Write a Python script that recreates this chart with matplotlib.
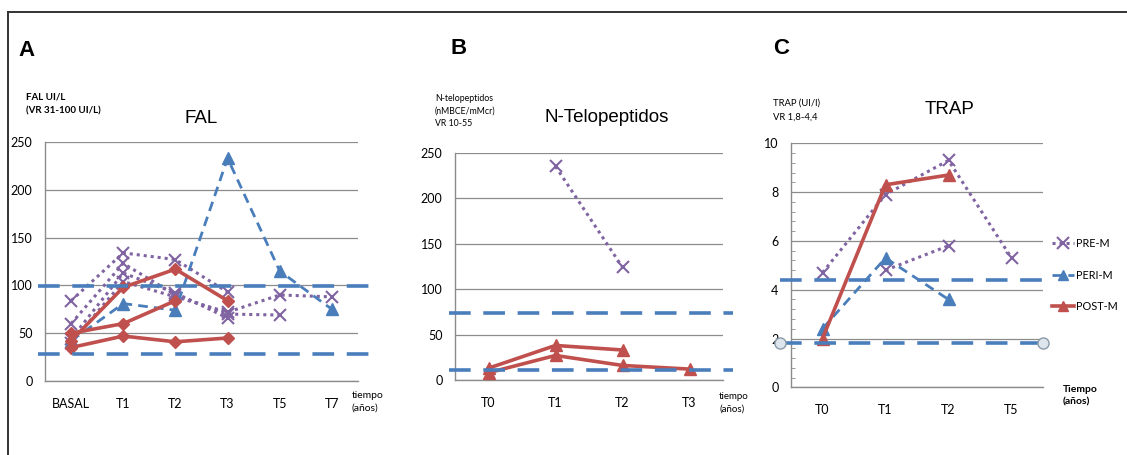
import numpy as np
import matplotlib
matplotlib.use('Agg')
import matplotlib.pyplot as plt
from matplotlib.lines import Line2D

nan = np.nan

# panel A - FAL
fal_cats = ['BASAL', 'T1', 'T2', 'T3', 'T5', 'T7']
fal_pre = [
    [84, 134, 127, 93, nan, nan],
    [60, 123, 90, 70, 69, nan],
    [44, 113, 92, 66, nan, nan],
    [40, 104, 88, 72, 90, 88],
]
fal_peri = [[42, 81, 74, 233, 115, 75]]
fal_post = [
    [42, 98, 117, 84, nan, nan],
    [50, 60, 84, nan, nan, nan],
    [35, 47, 41, 45, nan, nan],
]
fal_vr = [99, 28]

# panel B - N-Telopeptidos
ntx_cats = ['T0', 'T1', 'T2', 'T3']
ntx_pre = [[nan, 235, 124, nan]]
ntx_post = [
    [13, 38, 33, nan],
    [8, 27, 16, 12],
]
ntx_vr = [74, 11]

# panel C - TRAP
trap_cats = ['T0', 'T1', 'T2', 'T5']
trap_pre = [
    [4.7, 7.9, 9.3, 5.3],
    [nan, 4.8, 5.8, nan],
]
trap_peri = [[2.4, 5.3, 3.6, nan]]
trap_post = [[2.0, 8.3, 8.7, nan]]
trap_vr = [4.4, 1.8]

PURPLE = '#8064a2'
BLUE = '#4a7ebb'
RED = '#c0504d'
GRID = '#8c8c8c'
NARROW = ['Liberation Sans Narrow', 'Lato', 'DejaVu Sans']
SANS = ['Liberation Sans', 'DejaVu Sans']

W, H = 1127, 455
fig = plt.figure(figsize=(W / 100, H / 100), dpi=100)


def px_axes(x0, x1, ytop, ybot):
    return fig.add_axes([x0 / W, 1 - ybot / H, (x1 - x0) / W, (ybot - ytop) / H])


def style(ax, cats, ymax, step):
    ax.set_xlim(-0.5, len(cats) - 0.5)
    ax.set_ylim(0, ymax)
    ax.set_xticks(range(len(cats)))
    ax.set_xticklabels(cats, family=NARROW, fontsize=8.5)
    ax.set_yticks(np.arange(0, ymax + step / 2, step))
    ax.tick_params(length=0, pad=9, labelsize=9)
    ax.tick_params(axis='x', pad=12)
    for lab in ax.get_yticklabels():
        lab.set_family(NARROW)
    for s in ['top', 'right']:
        ax.spines[s].set_visible(False)
    for s in ['left', 'bottom']:
        ax.spines[s].set_color(GRID)
        ax.spines[s].set_linewidth(1.0)
    ax.yaxis.grid(True, color=GRID, lw=0.9)
    ax.set_axisbelow(True)
    ax.patch.set_alpha(0)


def draw(ax, pre, peri, post, post_marker):
    x = np.arange(len(pre[0]))
    for s in pre:
        a = np.array(s, float)
        m = ~np.isnan(a)
        ax.plot(x[m], a[m], ls=(0, (1, 1.3)), lw=2.2, color=PURPLE, marker='x',
                ms=9, mew=1.5, zorder=3, clip_on=False)
    for s in peri:
        a = np.array(s, float)
        m = ~np.isnan(a)
        ax.plot(x[m], a[m], ls=(0, (3.5, 2.2)), lw=2.0, color=BLUE, marker='^',
                ms=8, zorder=4, clip_on=False)
    for s in post:
        a = np.array(s, float)
        m = ~np.isnan(a)
        ax.plot(x[m], a[m], ls='-', lw=2.6, color=RED, marker=post_marker,
                ms=6.5 if post_marker == 'D' else 8, zorder=5, clip_on=False)


def vr_lines(ax, vals, x0, x1, circles=False):
    for i, v in enumerate(vals):
        ax.plot([x0, x1], [v, v], color=BLUE, lw=2.6, ls=(0, (6, 3.5)),
                zorder=6, clip_on=False)
        if circles and i == 1:
            ax.plot([x0, x1], [v, v], ls='none', marker='o', ms=8,
                    mfc='#dde6ee', mec='#8a9aa8', mew=1, zorder=7, clip_on=False)


# ---------- A ----------
axA = px_axes(45, 358, 142, 381)
style(axA, fal_cats, 250, 50)
draw(axA, fal_pre, fal_peri, fal_post, 'D')
vr_lines(axA, fal_vr, -0.63, 5.76)
axA.set_title('FAL', family=SANS, fontsize=13.5, pad=14)
fig.text(18 / W, 1 - 50 / H, 'A', fontsize=16, weight='bold', family=SANS, va='center')
fig.text(26 / W, 1 - 104 / H, 'FAL UI/L\n(VR 31-100 UI/L)', fontsize=7,
         weight='bold', family=NARROW, va='center', linespacing=1.6)
fig.text(352 / W, 1 - 402 / H, 'tiempo\n(años)', fontsize=7.5, family=NARROW,
         va='center', linespacing=1.5)

# ---------- B ----------
axB = px_axes(455, 723, 152.7, 380)
style(axB, ntx_cats, 250, 50)
draw(axB, ntx_pre, [], ntx_post, '^')
vr_lines(axB, ntx_vr, -0.59, 3.65)
fig.text(607 / W, 1 - 118 / H, 'N-Telopeptidos', family=SANS, fontsize=13.5,
         ha='center', va='center')
fig.text(450 / W, 1 - 48 / H, 'B', fontsize=16, weight='bold', family=SANS, va='center')
fig.text(435 / W, 1 - 111 / H, 'N-telopeptidos\n(nMBCE/mMcr)\nVR 10-55', fontsize=6.3,
         family=NARROW, va='center', linespacing=1.5)
fig.text(719 / W, 1 - 403 / H, 'tiempo\n(años)', fontsize=7, family=NARROW,
         va='center', linespacing=1.5)

# ---------- C ----------
axC = px_axes(791, 1043, 143.3, 387.3)
style(axC, trap_cats, 10, 2)
axC.set_yticks(np.arange(0, 10.01, 0.4), minor=True)
axC.tick_params(axis='y', which='minor', direction='in', length=3, color=GRID)
draw(axC, trap_pre, trap_peri, trap_post, '^')
vr_lines(axC, trap_vr, -0.68, 3.5, circles=True)
fig.text(950 / W, 1 - 110 / H, 'TRAP', family=SANS, fontsize=13.5,
         ha='center', va='center')
fig.text(773 / W, 1 - 48 / H, 'C', fontsize=16, weight='bold', family=SANS, va='center')
fig.text(773 / W, 1 - 110 / H, 'TRAP (UI/l)\nVR 1,8-4,4', fontsize=6.8,
         family=NARROW, va='center', linespacing=1.8)
fig.text(1063 / W, 1 - 396 / H, 'Tiempo\n(años)', fontsize=7.5, family=NARROW,
         weight='bold', va='center', linespacing=1.5)

handles = [
    Line2D([], [], ls=(0, (1, 1.3)), lw=2.2, color=PURPLE, marker='x', ms=8, mew=1.5),
    Line2D([], [], ls=(0, (3.5, 2.2)), lw=2.0, color=BLUE, marker='^', ms=7),
    Line2D([], [], ls='-', lw=2.6, color=RED, marker='^', ms=7),
]
fig.legend(handles, ['PRE-M', 'PERI-M', 'POST-M'], loc='upper left',
           bbox_to_anchor=(1052 / W, 1 - 238 / H), frameon=False,
           prop={'family': NARROW, 'size': 7.8}, handlelength=2.0,
           labelspacing=1.9, handletextpad=0.2, borderpad=0, borderaxespad=0)

# frame around the figure (top and left)
fig.add_artist(Line2D([8 / W, 8 / W], [0, 1 - 12 / H], color='#333333', lw=1.4))
fig.add_artist(Line2D([8 / W, 1], [1 - 12 / H, 1 - 12 / H], color='#333333', lw=1.4))

fig.savefig('out.png', dpi=100)
